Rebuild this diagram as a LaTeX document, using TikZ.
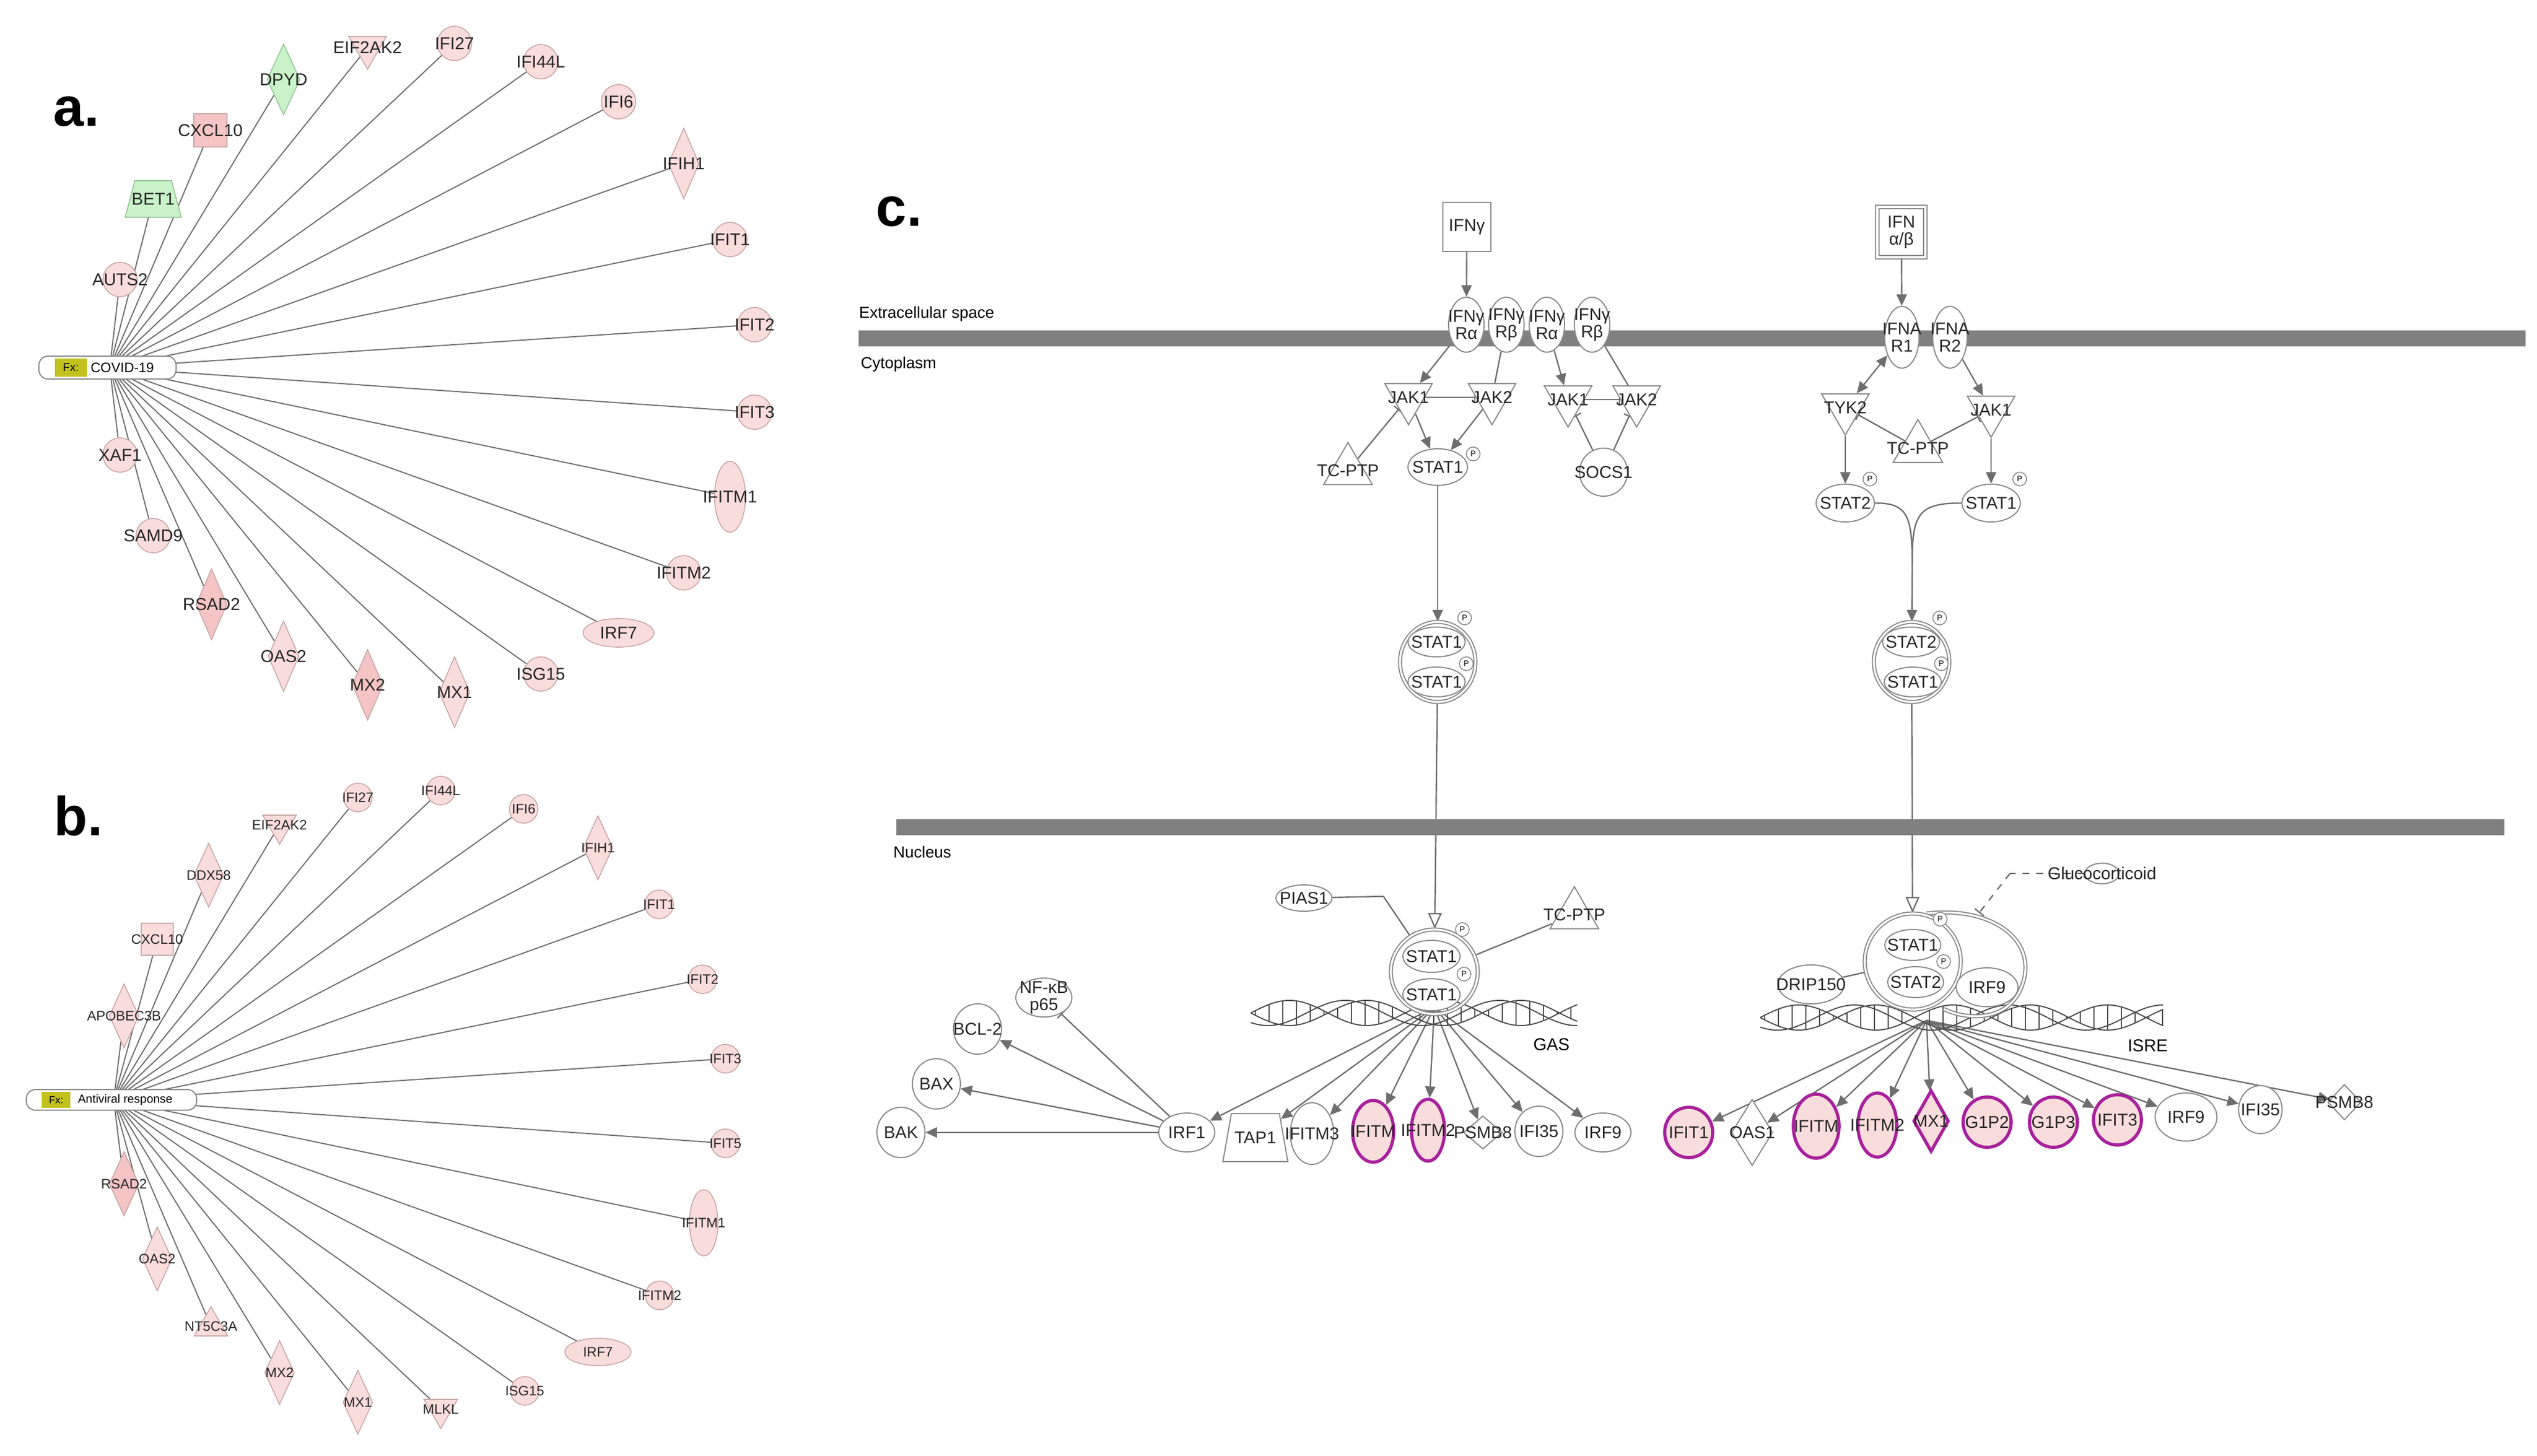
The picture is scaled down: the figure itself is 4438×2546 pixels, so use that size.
\documentclass[tikz,border=0pt]{standalone}
\usepackage{fontspec}
\setmainfont{Liberation Sans}
\usetikzlibrary{shapes.geometric,arrows.meta}
\newcommand\fsz[1]{\fontsize{#1}{#1}\selectfont}
\definecolor{pk}{HTML}{F9DCDC}
\definecolor{pkd}{HTML}{F5C4C4}
\definecolor{bd}{HTML}{C9A5A5}
\definecolor{gfill}{HTML}{C9F2C9}
\definecolor{gbd}{HTML}{93C493}
\definecolor{eg}{HTML}{6E6E6E}
\definecolor{nb}{HTML}{8A8A8A}
\definecolor{pur}{HTML}{A8219C}
\definecolor{fxy}{HTML}{C2C21E}
\pgfdeclarelayer{bg}
\pgfsetlayers{bg,main}
\tikzset{
 t/.style={label={[lab]center:#1}},
 lab/.style={font=\fsz{7.5},text=black!85,inner sep=0pt},
 labb/.style={font=\fsz{6},text=black!85,inner sep=0pt},
 tb/.style={label={[labb]center:#1}},
 pa/.style={draw=bd,fill=pk,line width=0.4pt,inner sep=0pt},
 pad/.style={pa,fill=pkd},
 pg/.style={draw=gbd,fill=gfill,line width=0.4pt,inner sep=0pt},
 ci/.style={circle,minimum size=#1},
 dia/.style={diamond,minimum width=#1},
 trid/.style={regular polygon,regular polygon sides=3,shape border rotate=180,minimum size=#1},
 triu/.style={regular polygon,regular polygon sides=3,minimum size=#1},
 trap/.style={trapezium,trapezium left angle=#1,trapezium right angle=#1,inner sep=2pt},
 edgeA/.style={draw=eg,line width=0.5pt},
 pill/.style={draw=nb,fill=white,rounded corners=4pt,line width=0.5pt,inner sep=0pt},
 pc/.style={draw=nb,fill=white,line width=0.5pt,inner sep=0pt},
 hl/.style={draw=pur,fill=pk,line width=1.4pt,inner sep=0pt},
 el/.style 2 args={ellipse,minimum width=#1,minimum height=#2},
 pp/.style={circle,draw=nb,fill=white,line width=0.4pt,minimum size=6pt,inner sep=0pt,label={[font=\fsz{3.5},inner sep=0pt]center:P}},
 ln/.style={draw=eg,line width=0.6pt},
 arr/.style={ln,-{Triangle[length=5pt,width=4.5pt]}},
 darr/.style={ln,{Triangle[length=5pt,width=4.5pt]}-{Triangle[length=5pt,width=4.5pt]}},
 oarr/.style={ln,-{Triangle[open,length=7pt,width=6pt]}},
 inh/.style={ln,-{Bar[width=5pt]}},
 dna/.style={draw=black!70,line width=0.5pt},
 letter/.style={font=\fsz{24}\bfseries,inner sep=0pt},
}
\newcommand\mydna[4]{%
 \draw[dna] plot[domain=#1:#2,samples=120] (\x,{#3+#4*sin((\x-#1)/270*360)});
 \draw[dna] plot[domain=#1:#2,samples=120] (\x,{#3-#4*sin((\x-#1)/270*360)});
 \draw[dna] plot[domain=#1:#2,samples=120] (\x,{#3+#4*sin((\x-#1)/270*360+50)});
 \pgfmathsetmacro\dnaW{#2-#1}
 \foreach \tt in {8,32,...,\dnaW} {\draw[dna,line width=0.35pt] ({#1+\tt},{#3+#4*sin(\tt/270*360)}) -- ({#1+\tt},{#3-#4*sin(\tt/270*360)});}
}
\begin{document}
\begin{tikzpicture}[x=0.25pt,y=-0.25pt]
\useasboundingbox (0,0) rectangle (4438,2546);
%% ---------------- panel a
\node[letter] (la) at (134,195) {a.};
\coordinate (a0) at (192,643);
\node[pill,minimum width=60pt,minimum height=10pt] (apill) at (188,643) {};
\node[fill=fxy,minimum width=14pt,minimum height=8pt,inner sep=0pt,font=\fsz{5}] (afx) at (124,643) {Fx:};
\node[font=\fsz{6},inner sep=0pt] (acov) at (214,643) {COVID-19};
\node[pg,dia,minimum width=14.5pt,minimum height=31pt,t=DPYD] (a1) at (496,139) {};
\node[pa,trid=19pt,t=EIF2AK2] (a2) at (643,83) {};
\node[pa,ci=15pt,t=IFI27] (a3) at (795,76) {};
\node[pa,ci=15pt,t=IFI44L] (a4) at (946,108) {};
\node[pa,ci=15pt,t=IFI6] (a5) at (1082,178) {};
\node[pa,dia,minimum width=13.5pt,minimum height=31pt,t=IFIH1] (a6) at (1196,286) {};
\node[pa,ci=15pt,t=IFIT1] (a7) at (1277,419) {};
\node[pa,ci=15pt,t=IFIT2] (a8) at (1320,568) {};
\node[pa,ci=15pt,t=IFIT3] (a9) at (1320,721) {};
\node[pa,el={13.5pt}{31pt},t=IFITM1] (a10) at (1277,869) {};
\node[pa,ci=15pt,t=IFITM2] (a11) at (1196,1002) {};
\node[pa,el={31pt}{12.5pt},t=IRF7] (a12) at (1082,1107) {};
\node[pa,ci=15pt,t=ISG15] (a13) at (946,1179) {};
\node[pa,dia,minimum width=13.5pt,minimum height=31pt,t=MX1] (a14) at (795,1211) {};
\node[pad,dia,minimum width=13.5pt,minimum height=31pt,t=MX2] (a15) at (643,1198) {};
\node[pa,dia,minimum width=13.5pt,minimum height=31pt,t=OAS2] (a16) at (496,1148) {};
\node[pad,dia,minimum width=13.5pt,minimum height=31pt,t=RSAD2] (a17) at (370,1057) {};
\node[pa,ci=15pt,t=SAMD9] (a18) at (268,937) {};
\node[pa,ci=15pt,t=XAF1] (a19) at (210,796) {};
\node[pa,ci=15pt,t=AUTS2] (a20) at (210,489) {};
\node[pg,trap=75,minimum width=13pt,minimum height=16pt,t=BET1] (a21) at (268,348) {};
\node[pad,minimum size=14.5pt,t=CXCL10] (a22) at (368,228) {};
\begin{pgfonlayer}{bg}
\foreach \i in {1,...,22} \draw[edgeA] (a0) -- (a\i);
\end{pgfonlayer}
%% ---------------- panel b
\node[letter] (lb) at (137,1427) {b.};
\coordinate (b0) at (199,1924);
\node[pill,minimum width=74.5pt,minimum height=9pt] (bpill) at (195,1924) {};
\node[fill=fxy,minimum width=12.5pt,minimum height=7pt,inner sep=0pt,font=\fsz{4.5}] (bfx) at (98,1924) {Fx:};
\node[font=\fsz{5.2},inner sep=0pt] (bav) at (219,1924) {Antiviral response};
\node[pa,trid=17pt,tb=EIF2AK2] (b1) at (489,1443) {};
\node[pa,ci=12.5pt,tb=IFI27] (b2) at (626,1395) {};
\node[pa,ci=12.5pt,tb=IFI44L] (b3) at (771,1383) {};
\node[pa,ci=12.5pt,tb=IFI6] (b4) at (916,1415) {};
\node[pa,dia,minimum width=13pt,minimum height=28pt,tb=IFIH1] (b5) at (1046,1483) {};
\node[pa,ci=12.5pt,tb=IFIT1] (b6) at (1153,1582) {};
\node[pa,ci=12.5pt,tb=IFIT2] (b7) at (1229,1713) {};
\node[pa,ci=12.5pt,tb=IFIT3] (b8) at (1269,1852) {};
\node[pa,ci=12.5pt,tb=IFIT5] (b9) at (1269,2000) {};
\node[pa,el={12.5pt}{29pt},tb=IFITM1] (b10) at (1231,2139) {};
\node[pa,ci=12.5pt,tb=IFITM2] (b11) at (1154,2266) {};
\node[pa,el={29pt}{12pt},tb=IRF7] (b12) at (1046,2365) {};
\node[pa,ci=12.5pt,tb=ISG15] (b13) at (918,2433) {};
\node[pa,trid=17pt,tb=MLKL] (b14) at (771,2465) {};
\node[pa,dia,minimum width=13pt,minimum height=28pt,tb=MX1] (b15) at (626,2453) {};
\node[pa,dia,minimum width=13pt,minimum height=28pt,tb=MX2] (b16) at (489,2401) {};
\node[pa,triu=17pt,tb=NT5C3A] (b17) at (369,2320) {};
\node[pa,dia,minimum width=13pt,minimum height=28pt,tb=OAS2] (b18) at (275,2202) {};
\node[pad,dia,minimum width=13pt,minimum height=28pt,tb=RSAD2] (b19) at (217,2071) {};
\node[pa,dia,minimum width=13pt,minimum height=28pt,tb=APOBEC3B] (b20) at (217,1777) {};
\node[pa,minimum size=14pt,tb=CXCL10] (b21) at (275,1643) {};
\node[pa,dia,minimum width=13pt,minimum height=28pt,tb=DDX58] (b22) at (365,1531) {};
\begin{pgfonlayer}{bg}
\foreach \i in {1,...,22} \draw[edgeA] (b0) -- (b\i);
\end{pgfonlayer}
%% ---------------- panel c
\node[letter] (lc) at (1573,370) {c.};
\fill[black!50] (1502,578) rectangle (4418,606);
\fill[black!50] (1568,1433) rectangle (4381,1461);
\node[font=\fsz{7},anchor=west,inner sep=0pt] (ext) at (1502,549) {Extracellular space};
\node[font=\fsz{7},anchor=west,inner sep=0pt] (cyt) at (1505,637) {Cytoplasm};
\node[font=\fsz{7},anchor=west,inner sep=0pt] (nuc) at (1562,1490) {Nucleus};
% left cytoplasm
\node[pc,minimum width=21pt,minimum height=21.5pt,t=IFNγ] (ifng) at (2566,397) {};
\node[pc,el={15.5pt}{24pt},label={[lab,align=center]center:IFNγ\\Rα}] (r1) at (2565,568) {};
\node[pc,el={15.5pt}{24pt},label={[lab,align=center]center:IFNγ\\Rβ}] (r2) at (2635,568) {};
\node[pc,el={15.5pt}{24pt},label={[lab,align=center]center:IFNγ\\Rα}] (r3) at (2706,568) {};
\node[pc,el={15.5pt}{24pt},label={[lab,align=center]center:IFNγ\\Rβ}] (r4) at (2785,568) {};
\node[pc,trid=24pt,t=JAK1] (j1) at (2464,695) {};
\node[pc,trid=24pt,t=JAK2] (j2) at (2610,695) {};
\node[pc,trid=24pt,t=JAK1] (j3) at (2743,699) {};
\node[pc,trid=24pt,t=JAK2] (j4) at (2863,699) {};
\node[pc,triu=24.5pt,t=TC-PTP] (tc1) at (2358,823) {};
\node[pc,el={26pt}{16pt},t=STAT1] (s1) at (2515,817) {};
\node[pp] (p1) at (2577,794) {};
\node[pc,ci=21pt,t=SOCS1] (socs) at (2805,826) {};
\node[pc,el={33pt}{35pt},double,double distance=0.8pt] (dA) at (2515,1158) {};
\node[pc,el={25pt}{13pt},t=STAT1] (dA1) at (2513,1123) {};
\node[pc,el={25pt}{13pt},t=STAT1] (dA2) at (2513,1193) {};
\node[pp] (pA1) at (2562,1081) {};
\node[pp] (pA2) at (2565,1161) {};
% right cytoplasm
\node[pc,minimum width=21pt,minimum height=22pt,double,double distance=0.8pt,label={[lab,align=center]center:IFN\\α/β}] (ifnab) at (3326,406) {};
\node[pc,el={15pt}{27pt},label={[lab,align=center]center:IFNA\\R1}] (ra1) at (3327,590) {};
\node[pc,el={15pt}{27pt},label={[lab,align=center]center:IFNA\\R2}] (ra2) at (3411,590) {};
\node[pc,trid=24pt,t=TYK2] (tyk) at (3228,713) {};
\node[pc,trid=24pt,t=JAK1] (j5) at (3483,717) {};
\node[pc,triu=25pt,t=TC-PTP] (tc2) at (3355,784) {};
\node[pc,el={25.5pt}{16.5pt},t=STAT2] (s2) at (3228,880) {};
\node[pp] (p2) at (3271,838) {};
\node[pc,el={25.5pt}{16.5pt},t=STAT1] (s3) at (3483,880) {};
\node[pp] (p3) at (3533,838) {};
\coordinate (mrg) at (3345,985);
\node[pc,el={33pt}{35pt},double,double distance=0.8pt] (dB) at (3344,1158) {};
\node[pc,el={25pt}{13pt},t=STAT2] (dB1) at (3343,1123) {};
\node[pc,el={25pt}{13pt},t=STAT1] (dB2) at (3346,1193) {};
\node[pp] (pB1) at (3393,1081) {};
\node[pp] (pB2) at (3396,1161) {};
% nucleus left
\mydna{2188}{2759}{1772}{22}
\node[pc,el={24.5pt}{11.5pt},t=PIAS1] (pias) at (2281,1571) {};
\coordinate (piasK) at (2420,1568);
\node[pc,triu=24.5pt,t=TC-PTP] (tc3) at (2754,1600) {};
\node[pc,el={38pt}{37pt},double,double distance=0.8pt,fill=none] (nA) at (2509,1700) {};
\node[pc,el={25pt}{14pt},t=STAT1] (nA1) at (2504,1673) {};
\node[pc,el={25pt}{14pt},t=STAT1] (nA2) at (2504,1740) {};
\node[pp] (pN1) at (2558,1626) {};
\node[pp] (pN2) at (2561,1704) {};
\node[font=\fsz{7.5},inner sep=0pt] (gas) at (2714,1827) {GAS};
\coordinate (fanA) at (2509,1762);
\node[pc,el={24.5pt}{17pt},t=IRF1] (c1) at (2076,1981) {};
\node[pc,trap=80,minimum width=17pt,minimum height=21pt,t=TAP1] (c2) at (2196,1990) {};
\node[pc,el={19pt}{27pt},t=IFITM3] (c3) at (2295,1983) {};
\node[hl,el={18pt}{27pt},t=IFITM] (c4) at (2402,1979) {};
\node[hl,el={14.5pt}{27pt},t=IFITM2] (c5) at (2498,1977) {};
\node[pc,dia,minimum width=17pt,minimum height=14.5pt,t=PSMB8] (c6) at (2594,1981) {};
\node[pc,el={21pt}{22pt},t=IFI35] (c7) at (2692,1979) {};
\node[pc,el={24.5pt}{17pt},t=IRF9] (c8) at (2804,1981) {};
\node[pc,el={21pt}{22pt},t=BAK] (bak) at (1576,1981) {};
\node[pc,el={21pt}{22pt},t=BAX] (bax) at (1638,1896) {};
\node[pc,el={21pt}{22pt},t=BCL-2] (bcl) at (1710,1800) {};
\node[pc,el={24.5pt}{17pt},label={[lab,align=center]center:NF-κB\\p65}] (nfkb) at (1826,1745) {};
% nucleus right
\mydna{3079}{3784}{1780}{22}
\draw[nb,line width=0.5pt,double,double distance=0.8pt] (3370,1598) .. controls (3480,1585) and (3560,1640) .. (3540,1715) .. controls (3520,1790) and (3440,1785) .. (3400,1765);
\node[pc,el={42pt}{42pt},double,double distance=0.8pt,fill=none] (nB) at (3346,1682) {};
\node[pc,el={24.5pt}{13.5pt},t=STAT1] (nB1) at (3346,1653) {};
\node[pc,el={24.5pt}{13.5pt},t=STAT2] (nB2) at (3351,1718) {};
\node[pp] (pN3) at (3394,1608) {};
\node[pp] (pN4) at (3400,1682) {};
\node[pc,el={27pt}{17pt},t=IRF9] (irfB) at (3476,1727) {};
\node[pc,el={29pt}{17pt},t=DRIP150] (drip) at (3168,1722) {};
\node[pc,el={15pt}{9pt},t=Glucocorticoid] (gluc) at (3677,1528) {};
\coordinate (glK) at (3516,1528);
\node[font=\fsz{7.5},inner sep=0pt] (isre) at (3757,1829) {ISRE};
\coordinate (fanB) at (3370,1785);
\node[hl,el={21pt}{22pt},t=IFIT1] (e1) at (2954,1981) {};
\node[pc,dia,minimum width=18pt,minimum height=29pt,t=OAS1] (e2) at (3065,1981) {};
\node[hl,el={20pt}{28pt},t=IFITM] (e3) at (3177,1970) {};
\node[hl,el={17pt}{28pt},t=IFITM2] (e4) at (3284,1968) {};
\node[hl,dia,minimum width=15.5pt,minimum height=27pt,t=MX1] (e5) at (3378,1961) {};
\node[hl,el={21pt}{22pt},t=G1P2] (e6) at (3476,1963) {};
\node[hl,el={21pt}{22pt},t=G1P3] (e7) at (3592,1963) {};
\node[hl,el={21pt}{22pt},t=IFIT3] (e8) at (3704,1959) {};
\node[pc,el={27pt}{21pt},t=IRF9] (e9) at (3824,1954) {};
\node[pc,el={19pt}{21pt},t=IFI35] (e10) at (3954,1941) {};
\node[pc,dia,minimum width=14.5pt,minimum height=15.5pt,t=PSMB8] (e11) at (4101,1928) {};
%% connectors panel c
\begin{pgfonlayer}{bg}
\draw[arr] (ifng) -- (r1);
\draw[arr] (r1) -- (j1);
\draw[ln] (r2) -- (j2);
\draw[inh] (j1) -- (j2);
\draw[arr] (r3) -- (j3);
\draw[ln] (r4) -- (j4);
\draw[inh] (j3) -- (j4);
\draw[arr] (j1) -- (s1);
\draw[arr] (j2) -- (s1);
\draw[inh] (tc1) -- (j1);
\draw[inh] (socs) -- (j3);
\draw[inh] (socs) -- (j4);
\draw[arr] (s1) -- (dA);
\draw[arr] (ifnab) -- (ra1);
\draw[darr] (ra1) -- (tyk);
\draw[arr] (ra2) -- (j5);
\draw[arr] (tyk) -- (s2);
\draw[arr] (j5) -- (s3);
\draw[inh] (tc2) -- (tyk);
\draw[inh] (tc2) -- (j5);
\draw[ln] (s2.east) .. controls (3335,880) and (3345,900) .. (mrg);
\draw[ln] (s3.west) .. controls (3355,880) and (3345,900) .. (mrg);
\draw[arr] (mrg) -- (dB);
\draw[oarr] (dA) -- (nA);
\draw[oarr] (dB) -- (nB);
\draw[ln] (pias) -- (piasK);
\draw[inh] (piasK) -- (nA);
\draw[ln] (tc3) -- (nA);
\foreach \i in {1,...,8} \draw[arr] (fanA) -- (c\i);
\draw[arr] (c1) -- (bcl);
\draw[arr] (c1) -- (bax);
\draw[arr] (c1) -- (bak);
\draw[inh] (c1) -- (nfkb);
\draw[ln] (drip) -- (nB);
\draw[ln,dashed] (gluc.west) -- (glK);
\draw[inh,dashed] (glK) -- (3462,1597);
\foreach \i in {1,...,11} \draw[arr] (fanB) -- (e\i);
\end{pgfonlayer}
\end{tikzpicture}
\end{document}
